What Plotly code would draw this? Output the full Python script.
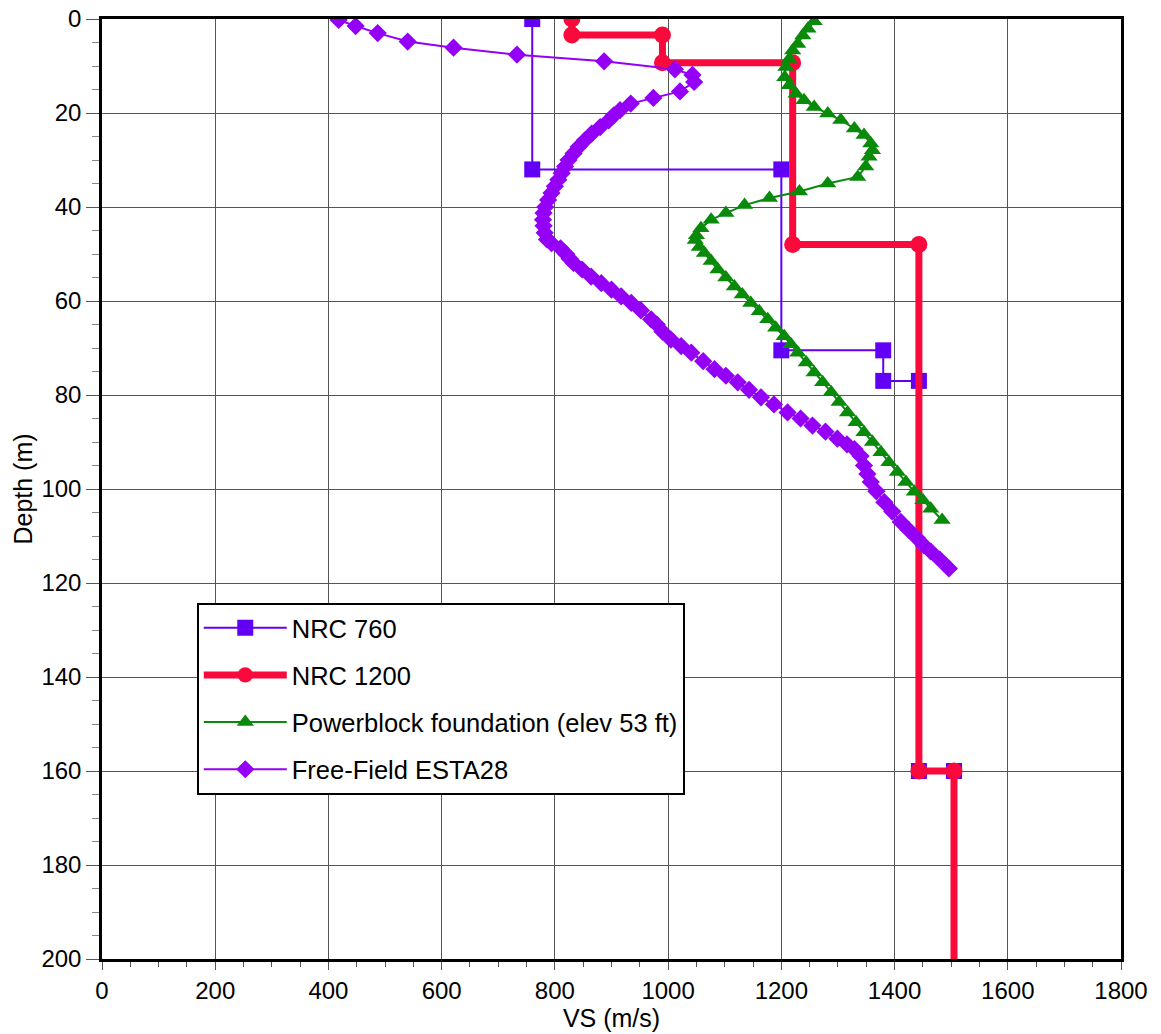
import plotly.graph_objects as go

# ---------------- data ----------------
nrc760_vs = [760, 760, 1200, 1200, 1380, 1380, 1443, 1443, 1505]
nrc760_depth = [0, 32, 32, 70.5, 70.5, 77, 77, 160, 160]

nrc1200_vs = [830, 830, 990, 990, 1220, 1220, 1443, 1443, 1505, 1505]
nrc1200_depth = [0, 3.4, 3.4, 9.3, 9.3, 48, 48, 160, 160, 200]

power_vs = [1258, 1247, 1238, 1229, 1220, 1214, 1208, 1206, 1214, 1226,
            1240, 1258, 1282, 1305, 1329, 1346, 1358, 1361, 1355, 1349,
            1335, 1282, 1232, 1179, 1135, 1102, 1076, 1058, 1050, 1048,
            1055, 1064, 1076, 1088, 1102, 1117, 1131, 1146, 1161, 1176,
            1190, 1205, 1217, 1229, 1244, 1258, 1273, 1288, 1302, 1317,
            1332, 1346, 1361, 1376, 1390, 1405, 1420, 1435, 1450, 1464, 1484]
power_depth = [0.5, 2.1, 3.5, 5.3, 6.7, 8.5, 10.2, 12.4, 14.1, 15.9,
               17.3, 18.7, 20.1, 21.5, 23.3, 24.7, 26.5, 27.9, 29.3, 31.4,
               33.6, 35.0, 36.7, 38.1, 39.6, 41.3, 42.7, 44.5, 46.0, 47.0,
               48.5, 49.8, 51.5, 53.3, 55.0, 56.9, 58.6, 60.4, 62.2, 63.9,
               65.7, 67.5, 69.2, 71.0, 73.1, 75.2, 77.3, 79.4, 81.5, 83.7,
               85.8, 87.9, 90.0, 92.2, 94.3, 96.4, 98.5, 100.6, 102.4, 104.2, 106.6]

ff_vs = [418, 448, 487, 540, 621, 733, 887, 1012, 1043, 1046,
         1021, 974, 934, 915, 904, 895, 880, 865, 853, 842,
         833, 824, 818, 812, 806, 800, 794, 788, 783, 780,
         779, 780, 782, 786, 794, 810, 820, 826, 833, 848,
         864, 882, 900, 917, 935, 952, 970, 980, 990, 1005,
         1023, 1041, 1062, 1082, 1102, 1123, 1143, 1164, 1187, 1211,
         1234, 1255, 1278, 1299, 1316, 1329, 1340, 1346, 1352, 1358,
         1368, 1382, 1396, 1411, 1425, 1440, 1452, 1464, 1480, 1496]
ff_depth = [0.2, 1.5, 3.0, 4.8, 6.1, 7.6, 9.0, 10.7, 11.9, 13.4,
            15.4, 16.8, 18.0, 19.4, 20.5, 21.6, 23.0, 24.4, 25.8, 27.2,
            28.6, 30.0, 31.4, 32.8, 34.2, 35.6, 37.0, 38.5, 40.0, 41.3,
            42.7, 44.0, 45.5, 46.9, 47.7, 48.8, 50.0, 51.0, 51.9, 53.3,
            54.8, 56.2, 57.6, 59.0, 60.4, 62.0, 63.9, 65.0, 66.5, 68.2,
            69.6, 71.0, 72.8, 74.5, 75.9, 77.3, 78.9, 80.5, 82.0, 83.7,
            85.0, 86.5, 87.8, 89.3, 90.5, 91.5, 93.0, 95.0, 96.8, 98.5,
            100.5, 102.8, 104.8, 107.0, 108.7, 110.5, 112.0, 113.3, 115.0, 116.9]

x_ticks = [0, 200, 400, 600, 800, 1000, 1200, 1400, 1600, 1800]
y_ticks = [0, 20, 40, 60, 80, 100, 120, 140, 160, 180, 200]

FONT = "Helvetica, Arial, 'Liberation Sans', sans-serif"

fig = go.Figure()

fig.add_trace(go.Scatter(
    x=nrc760_vs, y=nrc760_depth, mode="lines+markers", name="NRC 760",
    legendgroup="a",
    line=dict(color="#6200F5", width=2),
    marker=dict(symbol="square", size=16, color="#6200F5", opacity=1),
))
fig.add_trace(go.Scatter(
    x=nrc1200_vs, y=nrc1200_depth, mode="lines+markers", name="NRC 1200",
    legendgroup="b",
    line=dict(color="#FA0A3C", width=7),
    marker=dict(symbol="circle", size=[17] * (len(nrc1200_vs) - 1) + [0],
                color="#FA0A3C", opacity=1, line=dict(width=0)),
))
fig.add_trace(go.Scatter(
    x=power_vs, y=power_depth, mode="lines+markers",
    name="Powerblock foundation (elev 53 ft)",
    legendgroup="c",
    line=dict(color="#0A8A0A", width=2),
    marker=dict(symbol="triangle-up", size=15, color="#0A8A0A", opacity=1),
))
fig.add_trace(go.Scatter(
    x=ff_vs, y=ff_depth, mode="lines+markers", name="Free-Field ESTA28",
    legendgroup="d",
    line=dict(color="#9400F5", width=2),
    marker=dict(symbol="diamond", size=14, color="#9400F5", opacity=1),
))

axis_common = dict(
    automargin=False,
    showline=True, linecolor="black", linewidth=2.5, mirror=True,
    showgrid=True, gridcolor="#555555", gridwidth=1.3,
    zeroline=False, ticks="outside", tickcolor="#555555",
    tickfont=dict(family=FONT, size=24, color="black"),
)

fig.update_xaxes(
    range=[0, 1800], tickvals=x_ticks, ticklen=8, tickwidth=1.3,
    minor=dict(dtick=50, ticks="outside", ticklen=5, tickcolor="#555555", showgrid=False),
    title=dict(text="VS (m/s)", font=dict(family=FONT, size=25, color="black"), standoff=0),
    **axis_common,
)
fig.update_yaxes(
    range=[200, 0], tickvals=y_ticks, ticklen=13, tickwidth=1.3,
    minor=dict(dtick=5, ticks="outside", ticklen=7, tickcolor="#888888", showgrid=False),
    title=dict(text="Depth (m)", font=dict(family=FONT, size=25, color="black"), standoff=2),
    **axis_common,
)

fig.update_layout(
    width=1161, height=1034,
    margin=dict(l=102, r=40, t=19, b=75),
    plot_bgcolor="white", paper_bgcolor="white",
    font=dict(family=FONT, color="black"),
    legend=dict(
        x=0.093, y=0.379, xanchor="left", yanchor="top",
        bgcolor="white", bordercolor="black", borderwidth=2,
        font=dict(family=FONT, size=25.5, color="black"),
        traceorder="grouped", tracegroupgap=11, itemwidth=83,
    ),
)

fig.write_html("out.html")
